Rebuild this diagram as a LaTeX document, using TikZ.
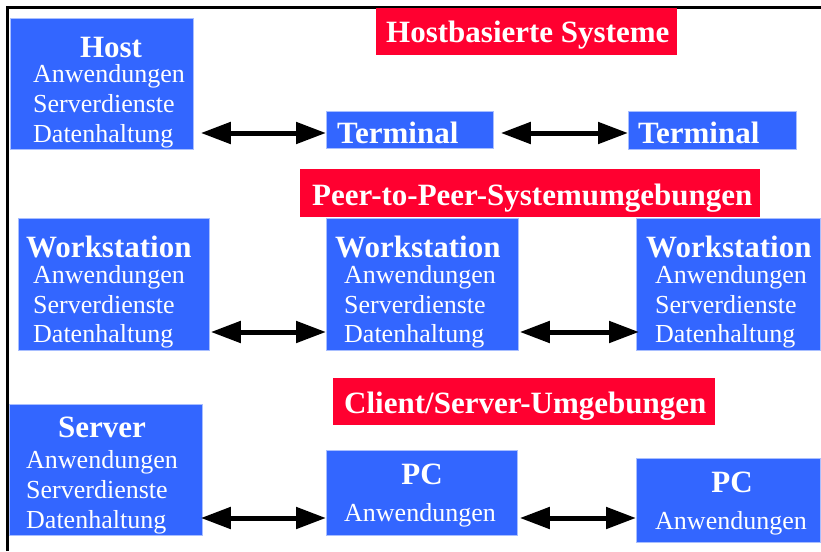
\documentclass[tikz,border=0pt]{standalone}
\usepackage{fontspec}
\setmainfont{Liberation Serif}
\usetikzlibrary{arrows.meta}
\definecolor{boxblue}{HTML}{3366FF}
\definecolor{boxedge}{HTML}{A8BEFF}
\definecolor{labred}{HTML}{FF0030}
\begin{document}
\begin{tikzpicture}[x=1pt,y=-1pt,
  box/.style={fill=boxblue, draw=boxedge, line width=0.8pt, inner sep=0pt, anchor=north west},
  lab/.style={fill=labred, inner sep=0pt, anchor=north west},
  ttl/.style={font=\fontsize{31}{31}\selectfont\bfseries, text=white, anchor=base west, inner sep=0pt},
  txt/.style={font=\fontsize{26}{26}\selectfont, text=white, anchor=base west, inner sep=0pt},
  dbl/.style={line width=5pt, {Triangle[length=30pt,width=21pt]}-{Triangle[length=30pt,width=21pt]}}]
\useasboundingbox (0,0) rectangle (821,551);
% frame
\draw[line width=3pt] (7.5,551) -- (7.5,7.5) -- (821,7.5);
% labels
\node[lab, minimum width=301pt, minimum height=47pt] (l1) at (376,8) {};
\node[ttl] (l1t) at (386,43) {Hostbasierte Systeme};
\node[lab, minimum width=460pt, minimum height=48pt] (l2) at (300,169) {};
\node[ttl] (l2t) at (312,205) {Peer-to-Peer-Systemumgebungen};
\node[lab, minimum width=382pt, minimum height=47pt] (l3) at (333,378) {};
\node[ttl] (l3t) at (344,413) {Client/Server-Umgebungen};
% row 1
\node[box, minimum width=183pt, minimum height=131pt] (host) at (10,18) {};
\node[ttl, anchor=base] (hostt) at (111,58) {Host};
\node[txt] (h1) at (33,82) {Anwendungen};
\node[txt] (h2) at (33,112) {Serverdienste};
\node[txt] (h3) at (33,142) {Datenhaltung};
\node[box, minimum width=167pt, minimum height=37pt] (term1) at (326,111) {};
\node[ttl] (term1t) at (337,143) {Terminal};
\node[box, minimum width=168pt, minimum height=38pt] (term2) at (628,111) {};
\node[ttl] (term2t) at (638,143) {Terminal};
% row 2
\node[box, minimum width=191pt, minimum height=132pt] (ws1) at (18,218) {};
\node[ttl] (ws1t) at (26,257) {Workstation};
\node[txt] (w11) at (33,283) {Anwendungen};
\node[txt] (w12) at (33,313) {Serverdienste};
\node[txt] (w13) at (33,342) {Datenhaltung};
\node[box, minimum width=192pt, minimum height=132pt] (ws2) at (326,218) {};
\node[ttl] (ws2t) at (335,257) {Workstation};
\node[txt] (w21) at (344,283) {Anwendungen};
\node[txt] (w22) at (344,313) {Serverdienste};
\node[txt] (w23) at (344,342) {Datenhaltung};
\node[box, minimum width=184pt, minimum height=132pt] (ws3) at (636,218) {};
\node[ttl] (ws3t) at (646,257) {Workstation};
\node[txt] (w31) at (655,283) {Anwendungen};
\node[txt] (w32) at (655,313) {Serverdienste};
\node[txt] (w33) at (655,342) {Datenhaltung};
% row 3
\node[box, minimum width=193pt, minimum height=131pt] (srv) at (9,404) {};
\node[ttl, anchor=base] (srvt) at (102,437) {Server};
\node[txt] (s1) at (26,468) {Anwendungen};
\node[txt] (s2) at (26,498) {Serverdienste};
\node[txt] (s3) at (26,528) {Datenhaltung};
\node[box, minimum width=191pt, minimum height=85pt] (pc1) at (326,450) {};
\node[ttl, anchor=base] (pc1t) at (422,484) {PC};
\node[txt] (p1) at (344,521) {Anwendungen};
\node[box, minimum width=184pt, minimum height=84pt] (pc2) at (636,458) {};
\node[ttl, anchor=base] (pc2t) at (732,492) {PC};
\node[txt] (p2) at (655,529) {Anwendungen};
% arrow heights
\coordinate (r1) at (0,133);
\coordinate (r2) at (0,332);
\coordinate (r3) at (0,518);
\draw[dbl, shorten <=7pt] (host.east |- r1) -- (term1.west |- r1);
\draw[dbl, shorten <=7pt] (term1.east |- r1) -- (term2.west |- r1);
\draw[dbl, shorten <=1pt] (ws1.east |- r2) -- (ws2.west |- r2);
\draw[dbl, shorten <=1pt, shorten >=-3pt] (ws2.east |- r2) -- (ws3.west |- r2);
\draw[dbl, shorten <=-2pt] (srv.east |- r3) -- (pc1.west |- r3);
\draw[dbl, shorten <=2pt] (pc1.east |- r3) -- (pc2.west |- r3);
\end{tikzpicture}
\end{document}
